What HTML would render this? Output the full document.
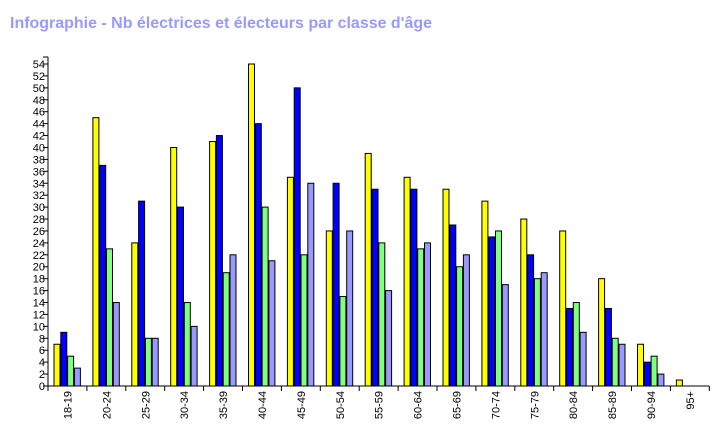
<!DOCTYPE html>
<html><head><meta charset="utf-8"><style>
html,body{margin:0;padding:0;background:#fff;}
svg{display:block;font-family:"Liberation Sans",Arial,sans-serif;}
</style></head><body>
<svg id="chart" width="728" height="429" viewBox="0 0 728 429">
<text x="10" y="28" font-size="16" font-weight="bold" fill="#9999ff" textLength="422" lengthAdjust="spacingAndGlyphs">Infographie - Nb électrices et électeurs par classe d'âge</text>
<g id="plot"></g>
</svg>
<script>
const categories = ["18-19","20-24","25-29","30-34","35-39","40-44","45-49","50-54","55-59","60-64","65-69","70-74","75-79","80-84","85-89","90-94","95+"];
const seriesYellow = [7,45,24,40,41,54,35,26,39,35,33,31,28,26,18,7,1];
const seriesBlue = [9,37,31,30,42,44,50,34,33,33,27,25,22,13,13,4,0];
const seriesGreen = [5,23,8,14,19,30,22,15,24,23,20,26,18,14,8,5,0];
const seriesPurple = [3,14,8,10,22,21,34,26,16,24,22,17,19,9,7,2,0];
const yTicks = [0,2,4,6,8,10,12,14,16,18,20,22,24,26,28,30,32,34,36,38,40,42,44,46,48,50,52,54];

const NS = "http://www.w3.org/2000/svg";
const plot = document.getElementById("plot");
const x0 = 48, y0 = 386, catW = 38.9, pxPerUnit = 322/54, yMaxPx = 57;
function yPos(v){ return y0 - v*pxPerUnit; }
function xCat(i){ return x0 + i*catW; }
function mk(tag, attrs){ const e=document.createElementNS(NS,tag); for(const k in attrs) e.setAttribute(k,attrs[k]); plot.appendChild(e); return e; }

const series = [
  {vals: seriesYellow, color:"#ffff00", name:"yellow"},
  {vals: seriesBlue, color:"#0000ff", name:"blue"},
  {vals: seriesGreen, color:"#80ff80", name:"green"},
  {vals: seriesPurple, color:"#9999ff", name:"purple"}
];
series.forEach((s, si) => {
  s.vals.forEach((v, i) => {
    if (v <= 0) return;
    const bx = xCat(i) + 6 + si*6.8;
    const r = mk("rect", {x: bx, y: yPos(v), width: 6, height: v*pxPerUnit, fill: s.color, stroke: "#000", "stroke-width": 1});
    
    
  });
});

// axes
const ya = mk("line", {x1:x0, y1:yMaxPx, x2:x0, y2:y0, stroke:"#000", "stroke-width":1});


const xa = mk("line", {x1:x0, y1:y0, x2:xCat(categories.length), y2:y0, stroke:"#000", "stroke-width":1});


const ytop = mk("line", {x1:x0-5, y1:yMaxPx, x2:x0, y2:yMaxPx, stroke:"#000"});



yTicks.forEach(t => {
  const y = yPos(t);
  const l = mk("line", {x1:x0-5, y1:y, x2:x0, y2:y, stroke:"#000"});
  
  
  const tx = mk("text", {x:x0-3, y:y+4, "font-size":11, "text-anchor":"end", fill:"#000"});
  tx.textContent = t;
  
  
});

for (let i = 0; i <= categories.length; i++) {
  const x = xCat(i);
  const l = mk("line", {x1:x, y1:y0, x2:x, y2:y0+5, stroke:"#000"});
  
  
}
categories.forEach((c, i) => {
  const cx = xCat(i) + catW/2 + 4;
  const t = mk("text", {x:cx, y:391, "font-size":11, "text-anchor":"end", fill:"#000", transform:"rotate(-90 "+cx+" 391)"});
  t.textContent = c;
  
  
});
</script>
</body></html>
